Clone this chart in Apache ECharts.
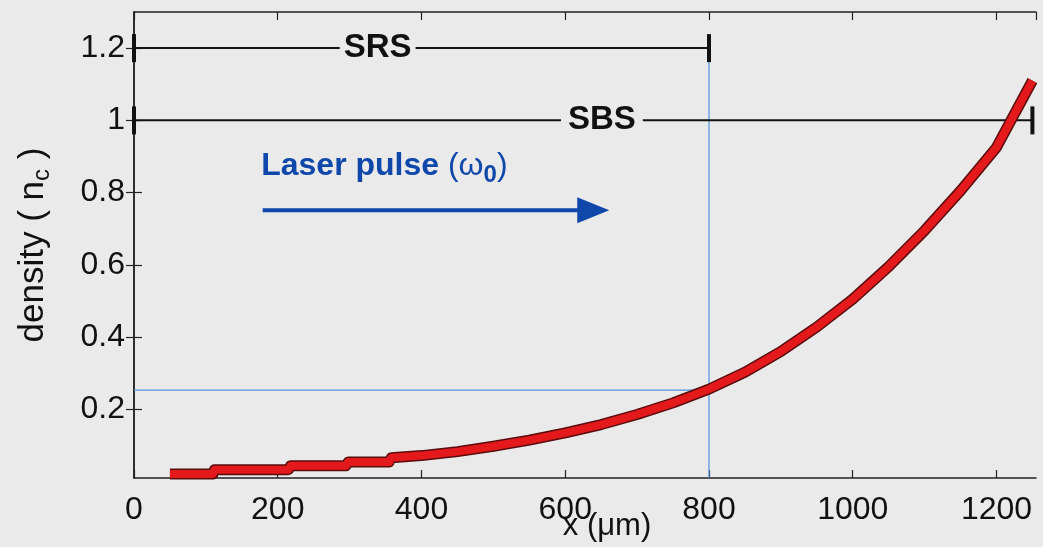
<!DOCTYPE html>
<html><head><meta charset="utf-8">
<script src="https://cdn.jsdelivr.net/npm/echarts@6/dist/echarts.min.js"></script>
<style>html,body{margin:0;padding:0;background:#eaeaea;}#c{width:1043px;height:547px;}</style>
</head><body><div id="c"></div>
<script>
// ---- data ----
const xTickStep = 200;
const yTicks = [0.2, 0.4, 0.6, 0.8, 1, 1.2];
const xPos =    [50, 110, 112, 215, 218, 295, 298, 355, 358, 400, 450, 500, 550, 600, 650, 700, 750, 800, 850, 900, 950, 1000, 1050, 1100, 1150, 1200, 1250];
const density = [0.021, 0.021, 0.033, 0.033, 0.044, 0.044, 0.054, 0.054, 0.066, 0.072, 0.083, 0.098, 0.115, 0.135, 0.158, 0.186, 0.218, 0.256, 0.303, 0.36, 0.428, 0.505, 0.595, 0.695, 0.805, 0.925, 1.11];
const srsRange = [0, 800];
const srsLevel = 1.2;
const srsLabelX = 339;
const sbsRange = [0, 1250];
const sbsLevel = 1.0;
const sbsLabelX = 651;
const markX = 800;
const markY = 0.253;
const arrowX = [179, 628];
const arrowHeadX = 639;
const arrowY = 0.751;
const laserLabelPos = [177, 0.872];
const xMin = 0, xMax = 1255, yMin = 0.01, yMax = 1.3;

const BG = '#eaeaea';
const FONT = 'Liberation Sans, Arial, Helvetica, sans-serif';
const BLUE = '#0f48aa';
const INK = '#111';

const curve = xPos.map((x, i) => [x, density[i]]);

const axisCommon = {
  axisLine: { show: true, lineStyle: { color: '#222', width: 1.5 } },
  splitLine: { show: false }
};
const tickStyle = { color: '#222', width: 1.2 };

const chart = echarts.init(document.getElementById('c'));
chart.setOption({
  backgroundColor: BG,
  animation: false,
  grid: { left: 134, right: 7, top: 12, bottom: 69, show: false, containLabel: false, outerBoundsMode: 'none' },
  xAxis: [
    Object.assign({
      type: 'value', min: xMin, max: xMax, interval: xTickStep, position: 'bottom',
      axisTick: { show: true, inside: true, length: 8, lineStyle: tickStyle },
      axisLabel: { show: true, fontSize: 32, color: INK, fontFamily: FONT, margin: 16,
        showMaxLabel: false, formatter: v => String(v) },
      name: 'x (μm)', nameLocation: 'middle', nameGap: 33, nameMoveOverlap: false,
      nameTextStyle: { fontSize: 31, color: INK, fontFamily: FONT, padding: [0, 0, 0, 44] }
    }, axisCommon),
    Object.assign({
      type: 'value', min: xMin, max: xMax, interval: xTickStep, position: 'top',
      axisTick: { show: true, inside: true, length: 8, lineStyle: tickStyle },
      axisLabel: { show: false }
    }, axisCommon)
  ],
  yAxis: [
    Object.assign({
      type: 'value', min: yMin, max: yMax, position: 'left',
      axisTick: { show: true, inside: true, length: 8, customValues: yTicks, lineStyle: tickStyle },
      axisLabel: { show: true, customValues: yTicks, fontSize: 32, color: INK, fontFamily: FONT, margin: 9,
        formatter: v => String(v) },
      name: '{a|density ( n}{s|c}{a| )}', nameLocation: 'middle', nameRotate: 90, nameGap: 80,
      nameTextStyle: {
        rich: {
          a: { fontSize: 35, color: INK, fontFamily: FONT },
          s: { fontSize: 24, color: INK, fontFamily: FONT, padding: [18, 0, 0, 0] }
        }
      }
    }, axisCommon),
    Object.assign({
      type: 'value', min: yMin, max: yMax, position: 'right',
      axisTick: { show: true, inside: true, length: 8, customValues: yTicks, lineStyle: tickStyle },
      axisLabel: { show: false }
    }, axisCommon)
  ],
  series: [
    { type: 'line', data: [[srsRange[0], markY], [markX, markY]], symbol: 'none', z: 1,
      lineStyle: { color: '#4d94e0', width: 1.2 } },
    { type: 'line', data: [[markX, yMin], [markX, srsLevel]], symbol: 'none', z: 1,
      lineStyle: { color: '#4d94e0', width: 1.2 } },
    { type: 'line', data: [[srsRange[0], srsLevel], [srsRange[1], srsLevel]], symbol: 'none', z: 2,
      lineStyle: { color: INK, width: 2 } },
    { type: 'line', data: [[sbsRange[0], sbsLevel], [sbsRange[1], sbsLevel]], symbol: 'none', z: 2,
      lineStyle: { color: INK, width: 2 } },
    { type: 'line', data: curve, symbol: 'none', z: 3,
      lineStyle: { color: '#5a0c0c', width: 11, cap: 'butt', join: 'round' } },
    { type: 'line', data: curve, symbol: 'none', z: 4,
      lineStyle: { color: '#e3191c', width: 8, cap: 'butt', join: 'round' } },
    { type: 'scatter', z: 5, symbol: 'rect', symbolSize: [4, 28], itemStyle: { color: INK, opacity: 1 },
      data: [[srsRange[0], srsLevel], [srsRange[1], srsLevel], [sbsRange[0], sbsLevel], [sbsRange[1], sbsLevel]] },
    { type: 'scatter', z: 6, symbolSize: 0, itemStyle: { opacity: 1 }, data: [[srsLabelX, srsLevel]],
      label: { show: true, position: 'inside', formatter: 'SRS', fontSize: 33, fontWeight: 'bold',
        color: INK, fontFamily: FONT, backgroundColor: BG, padding: [0, 4] } },
    { type: 'scatter', z: 6, symbolSize: 0, itemStyle: { opacity: 1 }, data: [[sbsLabelX, sbsLevel]],
      label: { show: true, position: 'inside', formatter: 'SBS', fontSize: 33, fontWeight: 'bold',
        color: INK, fontFamily: FONT, backgroundColor: BG, padding: [0, 7] } },
    { type: 'line', data: [[arrowX[0], arrowY], [arrowX[1], arrowY]], symbol: 'none', z: 6,
      lineStyle: { color: BLUE, width: 4 } },
    { type: 'scatter', z: 6, symbol: 'triangle', symbolRotate: -90, symbolSize: [26, 32],
      itemStyle: { color: BLUE, opacity: 1 }, data: [[arrowHeadX, arrowY]] },
    { type: 'scatter', z: 6, symbolSize: 0, itemStyle: { opacity: 1 }, data: [laserLabelPos],
      label: { show: true, position: 'right', distance: 0,
        formatter: '{b|Laser pulse }{p|(ω}{s|0}{p|)}',
        rich: {
          b: { fontSize: 32, fontWeight: 'bold', color: BLUE, fontFamily: FONT },
          p: { fontSize: 32, color: BLUE, fontFamily: FONT },
          s: { fontSize: 24, fontWeight: 'bold', color: BLUE, fontFamily: FONT, padding: [18, 0, 0, 0] }
        } } }
  ]
});
</script>
</body></html>
